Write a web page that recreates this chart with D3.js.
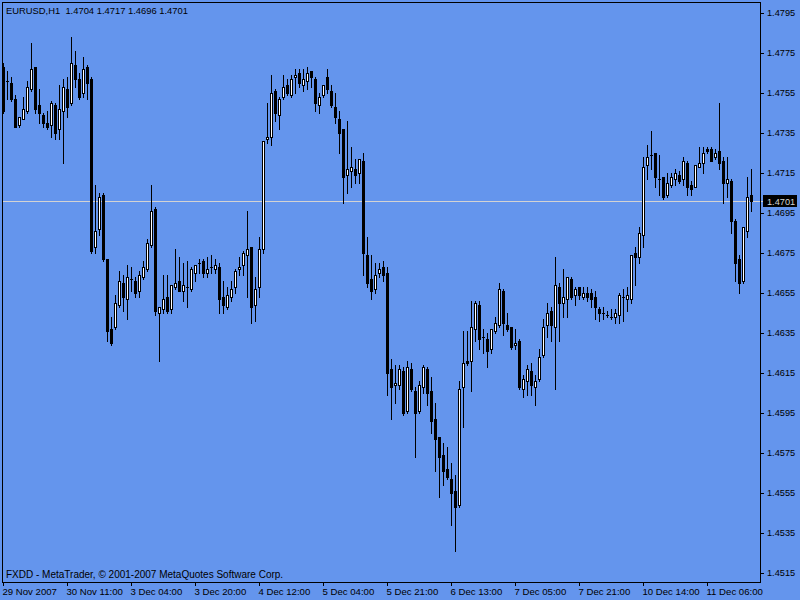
<!DOCTYPE html>
<html><head><meta charset="utf-8">
<script src="https://cdn.jsdelivr.net/npm/d3@7"></script>
<style>html,body{margin:0;padding:0;background:#6495ED;} svg{display:block;} text{white-space:pre;}</style>
</head><body>
<svg id="c" width="800" height="600"></svg>
<script>
const symbolTitle = "EURUSD,H1";
const copyright = "FXDD - MetaTrader, © 2001-2007 MetaQuotes Software Corp.";
const timeTickBars = [0,16,32,48,64,80,96,112,128,144,160,176];
const timeLabels = ["29 Nov 2007","30 Nov 11:00","3 Dec 04:00","3 Dec 20:00","4 Dec 12:00","5 Dec 04:00","5 Dec 21:00","6 Dec 13:00","7 Dec 05:00","7 Dec 21:00","10 Dec 14:00","11 Dec 06:00"];
const priceTicks = [1.4795,1.4775,1.4755,1.4735,1.4715,1.4695,1.4675,1.4655,1.4635,1.4615,1.4595,1.4575,1.4555,1.4535,1.4515];
const bidPrice = 1.4701;

const opens = [1.4768,1.4761,1.4760,1.4752,1.4739,1.4742,1.4746,1.4757,1.4768,1.4749,
1.4744,1.4740,1.4739,1.4749,1.4737,1.4746,1.4757,1.4750,1.4769,1.4762,
1.4755,1.4768,1.4762,1.4678,1.4687,1.4704,1.4672,1.4637,1.4638,1.4649,
1.4660,1.4652,1.4662,1.4661,1.4656,1.4663,1.4667,1.4679,1.4697,1.4645,
1.4647,1.4653,1.4647,1.4658,1.4661,1.4656,1.4658,1.4657,1.4665,1.4670,
1.4671,1.4665,1.4668,1.4667,1.4668,1.4653,1.4648,1.4653,1.4658,1.4667,
1.4669,1.4674,1.4678,1.4649,1.4658,1.4677,1.4732,1.4733,1.4756,1.4744,
1.4753,1.4759,1.4754,1.4763,1.4765,1.4759,1.4761,1.4766,1.4762,1.4749,
1.4754,1.4763,1.4756,1.4748,1.4742,1.4737,1.4714,1.4716,1.4717,1.4715,
1.4721,1.4674,1.4662,1.4657,1.4665,1.4668,1.4665,1.4617,1.4609,1.4609,
1.4616,1.4596,1.4617,1.4606,1.4596,1.4608,1.4617,1.4606,1.4592,1.4583,
1.4574,1.4567,1.4562,1.4556,1.4549,1.4608,1.4621,1.4621,1.4637,1.4649,
1.4633,1.4632,1.4627,1.4636,1.4639,1.4656,1.4639,1.4638,1.4629,1.4631,
1.4607,1.4611,1.4616,1.4608,1.4612,1.4624,1.4639,1.4646,1.4638,1.4658,
1.4650,1.4652,1.4662,1.4654,1.4658,1.4653,1.4655,1.4655,1.4653,1.4647,
1.4645,1.4644,1.4643,1.4643,1.4644,1.4653,1.4652,1.4652,1.4675,1.4673,
1.4684,1.4719,1.4724,1.4725,1.4712,1.4713,1.4704,1.4709,1.4712,1.4714,
1.4712,1.4720,1.4709,1.4708,1.4718,1.4720,1.4727,1.4727,1.4723,1.4726,
1.4721,1.4710,1.4711,1.4691,1.4672,1.4661,1.4686,1.4704];

const highs = [1.4770,1.4766,1.4763,1.4754,1.4743,1.4753,1.4761,1.4780,1.4768,1.4757,
1.4745,1.4746,1.4751,1.4750,1.4759,1.4762,1.4763,1.4783,1.4776,1.4765,
1.4773,1.4769,1.4763,1.4709,1.4705,1.4705,1.4672,1.4643,1.4654,1.4666,
1.4664,1.4669,1.4668,1.4663,1.4666,1.4671,1.4682,1.4709,1.4698,1.4648,
1.4664,1.4664,1.4659,1.4677,1.4673,1.4670,1.4671,1.4668,1.4669,1.4672,
1.4672,1.4673,1.4674,1.4672,1.4670,1.4661,1.4658,1.4661,1.4667,1.4673,
1.4676,1.4696,1.4678,1.4663,1.4683,1.4731,1.4750,1.4764,1.4757,1.4753,
1.4764,1.4762,1.4764,1.4767,1.4767,1.4767,1.4768,1.4766,1.4763,1.4755,
1.4759,1.4767,1.4759,1.4755,1.4746,1.4737,1.4741,1.4728,1.4722,1.4722,
1.4725,1.4683,1.4674,1.4670,1.4670,1.4671,1.4668,1.4622,1.4619,1.4619,
1.4618,1.4621,1.4620,1.4608,1.4611,1.4619,1.4618,1.4613,1.4600,1.4583,
1.4580,1.4578,1.4570,1.4564,1.4611,1.4636,1.4636,1.4651,1.4651,1.4651,
1.4637,1.4635,1.4637,1.4643,1.4660,1.4657,1.4645,1.4638,1.4637,1.4632,
1.4614,1.4619,1.4620,1.4614,1.4627,1.4642,1.4650,1.4648,1.4673,1.4660,
1.4667,1.4663,1.4663,1.4658,1.4658,1.4658,1.4658,1.4657,1.4656,1.4648,
1.4648,1.4646,1.4647,1.4647,1.4655,1.4657,1.4658,1.4674,1.4678,1.4688,
1.4723,1.4729,1.4736,1.4725,1.4724,1.4713,1.4715,1.4715,1.4717,1.4716,
1.4723,1.4721,1.4711,1.4719,1.4728,1.4728,1.4728,1.4728,1.4727,1.4750,
1.4723,1.4723,1.4712,1.4692,1.4674,1.4688,1.4713,1.4717];

const lows = [1.4745,1.4752,1.4751,1.4738,1.4738,1.4742,1.4745,1.4756,1.4745,1.4740,
1.4738,1.4737,1.4733,1.4732,1.4732,1.4720,1.4743,1.4749,1.4758,1.4752,
1.4753,1.4752,1.4675,1.4675,1.4684,1.4671,1.4631,1.4629,1.4637,1.4648,
1.4646,1.4642,1.4656,1.4653,1.4653,1.4662,1.4666,1.4678,1.4644,1.4621,
1.4645,1.4645,1.4645,1.4657,1.4656,1.4651,1.4648,1.4656,1.4661,1.4665,
1.4663,1.4663,1.4665,1.4665,1.4645,1.4645,1.4647,1.4651,1.4655,1.4664,
1.4664,1.4653,1.4640,1.4641,1.4653,1.4675,1.4730,1.4729,1.4741,1.4737,
1.4752,1.4754,1.4753,1.4755,1.4758,1.4756,1.4757,1.4758,1.4746,1.4745,
1.4753,1.4755,1.4748,1.4740,1.4725,1.4700,1.4705,1.4708,1.4710,1.4710,
1.4664,1.4658,1.4652,1.4655,1.4663,1.4661,1.4604,1.4592,1.4600,1.4607,
1.4594,1.4595,1.4606,1.4573,1.4595,1.4605,1.4599,1.4585,1.4566,1.4553,
1.4559,1.4562,1.4539,1.4526,1.4548,1.4588,1.4619,1.4606,1.4631,1.4627,
1.4625,1.4618,1.4625,1.4635,1.4638,1.4634,1.4636,1.4627,1.4627,1.4607,
1.4603,1.4604,1.4604,1.4599,1.4611,1.4623,1.4633,1.4631,1.4607,1.4631,
1.4643,1.4643,1.4652,1.4649,1.4652,1.4652,1.4651,1.4648,1.4642,1.4641,
1.4642,1.4643,1.4642,1.4640,1.4640,1.4641,1.4646,1.4650,1.4659,1.4670,
1.4678,1.4712,1.4717,1.4708,1.4704,1.4702,1.4703,1.4708,1.4709,1.4710,
1.4709,1.4704,1.4704,1.4708,1.4718,1.4715,1.4725,1.4721,1.4722,1.4717,
1.4700,1.4703,1.4685,1.4661,1.4655,1.4660,1.4683,1.4696];

const closes = [1.4746,1.4761,1.4752,1.4738,1.4743,1.4747,1.4758,1.4767,1.4747,1.4745,
1.4740,1.4738,1.4750,1.4735,1.4747,1.4758,1.4748,1.4770,1.4762,1.4753,
1.4767,1.4760,1.4676,1.4686,1.4703,1.4672,1.4636,1.4630,1.4650,1.4661,
1.4653,1.4663,1.4662,1.4655,1.4664,1.4668,1.4680,1.4696,1.4646,1.4648,
1.4652,1.4646,1.4659,1.4660,1.4656,1.4659,1.4658,1.4667,1.4669,1.4670,
1.4665,1.4667,1.4668,1.4669,1.4652,1.4649,1.4654,1.4657,1.4666,1.4668,
1.4675,1.4677,1.4648,1.4657,1.4677,1.4731,1.4733,1.4755,1.4745,1.4752,
1.4758,1.4755,1.4762,1.4764,1.4760,1.4762,1.4765,1.4763,1.4750,1.4753,
1.4759,1.4757,1.4749,1.4743,1.4735,1.4713,1.4717,1.4718,1.4714,1.4722,
1.4675,1.4660,1.4656,1.4664,1.4667,1.4664,1.4615,1.4608,1.4610,1.4617,
1.4595,1.4618,1.4607,1.4595,1.4609,1.4618,1.4605,1.4591,1.4582,1.4573,
1.4566,1.4563,1.4555,1.4548,1.4607,1.4620,1.4620,1.4638,1.4650,1.4632,
1.4633,1.4626,1.4637,1.4640,1.4657,1.4640,1.4637,1.4628,1.4630,1.4608,
1.4612,1.4617,1.4609,1.4611,1.4623,1.4638,1.4645,1.4639,1.4659,1.4650,
1.4653,1.4663,1.4653,1.4657,1.4654,1.4655,1.4653,1.4652,1.4648,1.4645,
1.4645,1.4644,1.4643,1.4645,1.4654,1.4653,1.4654,1.4674,1.4673,1.4685,
1.4718,1.4723,1.4724,1.4713,1.4712,1.4703,1.4710,1.4713,1.4715,1.4711,
1.4721,1.4708,1.4707,1.4719,1.4720,1.4725,1.4726,1.4721,1.4725,1.4720,
1.4710,1.4712,1.4691,1.4670,1.4660,1.4688,1.4703,1.4701];

const bars = opens.map((o,i)=>({i, o, h: highs[i], l: lows[i], c: closes[i]}));
const FONT = "'Liberation Sans', Arial, sans-serif";
const fmt = d3.format(".4f");

const svg = d3.select("#c").attr("shape-rendering","crispEdges");
svg.append("rect").attr("width",800).attr("height",600).attr("fill","#6495ED");

const x = d3.scaleLinear().domain([-0.25, 189.25]).range([2, 760]);
const y = d3.scaleLinear().domain([1.4795, 1.4515]).range([13, 573]);

// bid line (behind candles)
const by = Math.round(y(bidPrice));
svg.append("rect").attr("x",3).attr("y",by).attr("width",760).attr("height",1).attr("fill","#d3d3d3");

// candles
const g = svg.append("g");
bars.forEach(b=>{
  const cx = Math.round(x(b.i));
  const yh = Math.round(y(b.h)), yl = Math.round(y(b.l));
  g.append("rect").attr("x",cx).attr("y",yh).attr("width",1).attr("height",yl-yh+1).attr("fill","#000");
  const top = Math.round(y(Math.max(b.o,b.c))), bot = Math.round(y(Math.min(b.o,b.c)));
  g.append("rect").attr("x",cx-1).attr("y",top).attr("width",3).attr("height",bot-top+1).attr("fill","#000");
  if (b.c > b.o && bot-top >= 2) {
    g.append("rect").attr("x",cx).attr("y",top+1).attr("width",1).attr("height",bot-top-1).attr("fill","#fff");
  }
});

// frame
svg.append("rect").attr("x",2.5).attr("y",2.5).attr("width",758).attr("height",580)
  .attr("fill","none").attr("stroke","#000").attr("stroke-width",1);

// right axis
const ya = svg.append("g").attr("transform","translate(760,0)")
  .call(d3.axisRight(y).tickValues(priceTicks).tickFormat(fmt).tickSize(4).tickPadding(3).tickSizeOuter(0));
ya.select(".domain").remove();
ya.selectAll("line").attr("stroke","#000");
ya.selectAll("text").attr("fill","#000").style("font-family",FONT).style("font-size","9.2px");

// bottom axis
const xa = svg.append("g").attr("transform","translate(0,582)")
  .call(d3.axisBottom(x).tickValues(timeTickBars).tickFormat((d,i)=>timeLabels[i]).tickSize(4).tickPadding(2).tickSizeOuter(0));
xa.select(".domain").remove();
xa.selectAll("line").attr("stroke","#000");
xa.selectAll("text").attr("fill","#000").attr("text-anchor","start").attr("x",-1)
  .style("font-family",FONT).style("font-size","9.6px");

// bid price tag
svg.append("rect").attr("x",763).attr("y",by-6).attr("width",34).attr("height",12).attr("fill","#000");
svg.append("text").attr("x",767).attr("y",by+3.5).text(fmt(bidPrice))
  .attr("fill","#d3d3d3").style("font-family",FONT).style("font-size","9.2px");

// title & copyright
const last = bars[bars.length-1];
svg.append("text").attr("x",6).attr("y",14)
  .text(`${symbolTitle}  ${fmt(last.o)} ${fmt(last.h)} ${fmt(last.l)} ${fmt(last.c)}`)
  .attr("fill","#000").style("font-family",FONT).style("font-size","9.4px");
svg.append("text").attr("x",6).attr("y",577.5).text(copyright)
  .attr("fill","#000").style("font-family",FONT).style("font-size","10px");
</script>
</body></html>
